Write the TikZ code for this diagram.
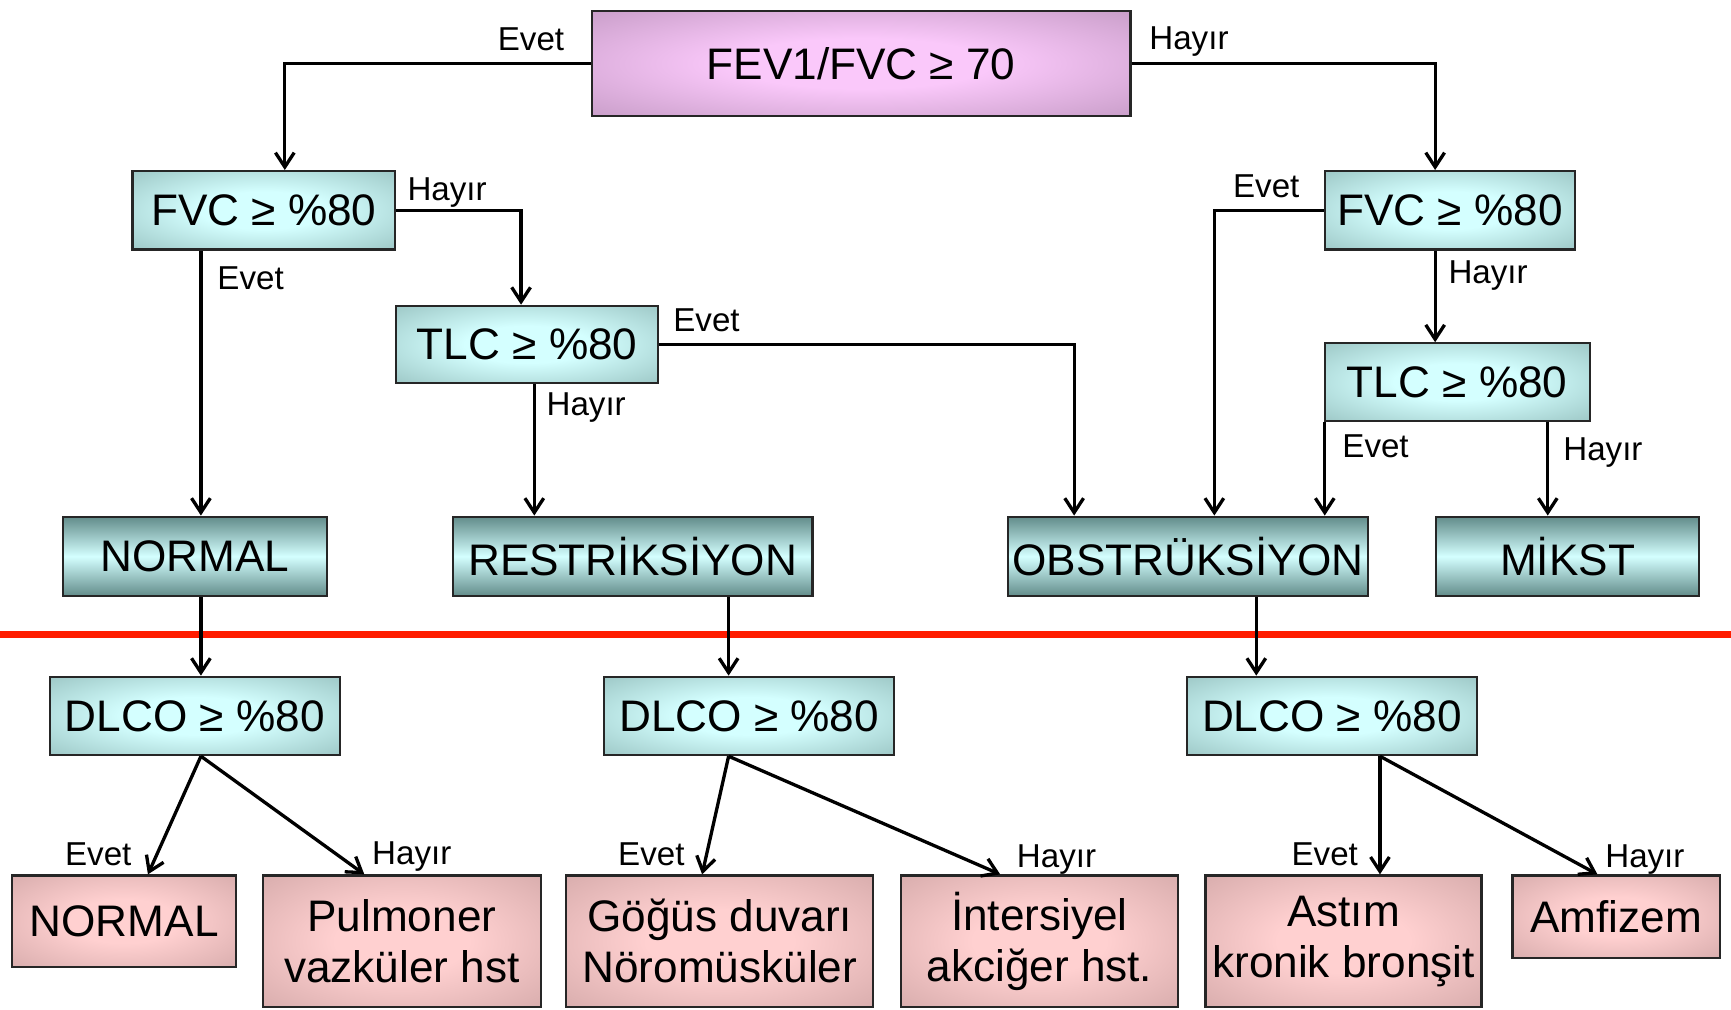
\documentclass[tikz,border=0pt]{standalone}
\usepackage{fontspec}
\setmainfont{Liberation Sans}
\usetikzlibrary{arrows.meta}
\definecolor{tealout}{RGB}{134,176,174}
\definecolor{tealin}{RGB}{212,255,255}
\definecolor{tealdark}{RGB}{98,140,138}
\definecolor{purpout}{RGB}{180,140,180}
\definecolor{purpin}{RGB}{250,200,250}
\definecolor{pinkout}{RGB}{200,158,158}
\definecolor{pinkin}{RGB}{255,208,208}
\definecolor{redline}{RGB}{255,28,0}
\pgfdeclareradialshading{tealglow}{\pgfpoint{0bp}{0bp}}{color(0bp)=(tealin); color(12bp)=(tealin); color(46bp)=(tealout); color(100bp)=(tealout)}
\pgfdeclareradialshading{purpglow}{\pgfpoint{0bp}{0bp}}{color(0bp)=(purpin); color(12bp)=(purpin); color(46bp)=(purpout); color(100bp)=(purpout)}
\pgfdeclareradialshading{pinkglow}{\pgfpoint{0bp}{0bp}}{color(0bp)=(pinkin); color(12bp)=(pinkin); color(46bp)=(pinkout); color(100bp)=(pinkout)}
\begin{document}
\begin{tikzpicture}[x=1pt,y=-1pt,
  base/.style={draw=black!85, line width=2pt, inner sep=2pt, font=\fontsize{40}{46}\selectfont, text=black, align=center},
  tealbox/.style={base, shade, shading=tealglow},
  bandbox/.style={base, top color=tealdark, bottom color=tealdark, middle color=tealin},
  purpbox/.style={base, shade, shading=purpglow},
  pinkbox/.style={base, shade, shading=pinkglow},
  lab/.style={font=\fontsize{30}{36}\selectfont, inner sep=0pt},
  arr/.style={line width=3pt, -{Straight Barb[length=13pt,width=17pt]}}
]
\useasboundingbox (0,0) rectangle (1568,914);
% red divider
\draw[redline, line width=6pt] (0,575) coordinate (rl) -- (1568,575) coordinate (rr);
% nodes
\node[purpbox, minimum width=488pt, minimum height=95pt] (fev) at (780,57.5) {FEV1/FVC ≥ 70};
\node[tealbox, minimum width=238pt, minimum height=71pt] (fvcL) at (239,190.5) {FVC ≥ \%80};
\node[tealbox, minimum width=227pt, minimum height=71pt] (fvcR) at (1313.5,190.5) {FVC ≥ \%80};
\node[tealbox, minimum width=237pt, minimum height=70pt] (tlcL) at (477.5,312) {TLC ≥ \%80};
\node[tealbox, minimum width=240pt, minimum height=70pt] (tlcR) at (1320,346) {TLC ≥ \%80};
\node[bandbox, minimum width=239pt, minimum height=72pt] (normal) at (176.5,504) {NORMAL};
\node[bandbox, minimum width=326pt, minimum height=72pt] (restr) at (573,504) {RESTRİKSİYON};
\node[bandbox, minimum width=326pt, minimum height=72pt] (obs) at (1076,504) {OBSTRÜKSİYON};
\node[bandbox, minimum width=238pt, minimum height=72pt] (mikst) at (1420,504) {MİKST};
\node[tealbox, minimum width=263pt, minimum height=71pt] (dlcoL) at (176.5,648.5) {DLCO ≥ \%80};
\node[tealbox, minimum width=263pt, minimum height=71pt] (dlcoM) at (678.5,648.5) {DLCO ≥ \%80};
\node[tealbox, minimum width=263pt, minimum height=71pt] (dlcoR) at (1206.5,648.5) {DLCO ≥ \%80};
\node[pinkbox, minimum width=203pt, minimum height=83pt] (pNor) at (112.5,834.5) {NORMAL};
\node[pinkbox, minimum width=252pt, minimum height=119pt] (pPul) at (364,852.5) {Pulmoner\\vazküler hst};
\node[pinkbox, minimum width=278pt, minimum height=119pt] (pGog) at (652,852.5) {Göğüs duvarı\\Nöromüsküler};
\node[pinkbox, minimum width=251pt, minimum height=119pt] (pInt) at (941.5,852.5) {İntersiyel\\akciğer hst.};
\node[pinkbox, minimum width=250pt, minimum height=119pt] (pAst) at (1217,852.5) {Astım\\kronik bronşit};
\node[pinkbox, minimum width=188pt, minimum height=75pt] (pAmf) at (1464,830.5) {Amfizem};
% helper coordinates
\coordinate (c1) at ([xshift=19pt]fvcL.north);
\coordinate (c2) at ([xshift=-13.5pt]fvcR.north);
\coordinate (c3) at ([xshift=-5.5pt]tlcL.north);
\coordinate (c4) at ([xshift=-57pt]fvcL.south);
\coordinate (c5) at ([xshift=-103pt]obs.north);
\coordinate (c6) at ([xshift=6.5pt]tlcL.south);
\coordinate (c7) at ([xshift=24pt]obs.north);
\coordinate (c8) at ([xshift=-13.5pt]fvcR.south);
\coordinate (c9) at ([xshift=1pt]tlcR.south west);
\coordinate (c10) at ([xshift=82pt]tlcR.south);
\coordinate (c11) at ([xshift=5.5pt]normal.south);
\coordinate (c12) at ([xshift=87pt]restr.south);
\coordinate (c13) at ([xshift=62pt]obs.south);
\coordinate (d1) at ([xshift=5.5pt]dlcoL.south);
\coordinate (d2) at ([xshift=-18.5pt]dlcoM.south);
\coordinate (d3) at ([xshift=43.5pt]dlcoR.south);
% connectors
\draw[arr] (fev.west) -| (c1);
\draw[arr] (fev.east) -| (c2);
\draw[arr] (fvcL.east) -| (c3);
\draw[arr] (c4) -- (c4 |- normal.north);
\draw[arr] (tlcL.east) -| (c5);
\draw[arr] (c6) -- (c6 |- restr.north);
\draw[arr] (fvcR.west) -| (c7);
\draw[arr] (c8) -- (c8 |- tlcR.north);
\draw[arr] (c9) -- (c9 |- obs.north);
\draw[arr] (c10) -- (c10 |- mikst.north);
\draw[arr] (c11) -- (c11 |- dlcoL.north);
\draw[arr] (c12) -- (c12 |- dlcoM.north);
\draw[arr] (c13) -- (c13 |- dlcoR.north);
\draw[arr] (d1) -- ([xshift=21.5pt]pNor.north);
\draw[arr] (d1) -- ([xshift=-34pt]pPul.north);
\draw[arr] (d2) -- ([xshift=-16pt]pGog.north);
\draw[arr] (d2) -- ([xshift=-35.5pt]pInt.north);
\draw[arr] (d3) -- ([xshift=33pt]pAst.north);
\draw[arr] (d3) -- ([xshift=-17pt]pAmf.north);
% labels
\node[lab] (l1) at (481,36) {Evet};
\node[lab] (l2) at (1077,38) {Hayır};
\node[lab] (l3) at (405,174) {Hayır};
\node[lab] (l4) at (227,252) {Evet};
\node[lab] (l5) at (640,290) {Evet};
\node[lab] (l6) at (531,369) {Hayır};
\node[lab] (l7) at (1147,169) {Evet};
\node[lab] (l8) at (1348,250) {Hayır};
\node[lab] (l9) at (1246,404) {Evet};
\node[lab] (l10) at (1452,410) {Hayır};
\node[lab] (l11) at (89,774) {Evet};
\node[lab] (l12) at (373,776) {Hayır};
\node[lab] (l13) at (590,774) {Evet};
\node[lab] (l14) at (957,779) {Hayır};
\node[lab] (l15) at (1200,774) {Evet};
\node[lab] (l16) at (1490,779) {Hayır};
\end{tikzpicture}
\end{document}
